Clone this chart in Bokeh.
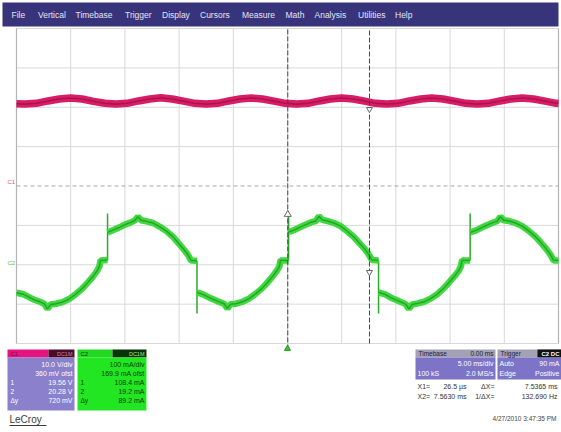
from bokeh.plotting import figure
from bokeh.models import Range1d
from bokeh.core.properties import value
from bokeh.embed import file_html
from bokeh.resources import INLINE

# ------------------------------------------------------------------ data
menu_labels = ["File", "Vertical", "Timebase", "Trigger", "Display", "Cursors",
               "Measure", "Math", "Analysis", "Utilities", "Help"]

grid_t_ms = [-25, -20, -15, -10, -5, 0, 5, 10, 15, 20, 25]   # 5 ms/div
grid_div = [-4, -3, -2, -1, 0, 1, 2, 3, 4]

# C1 (pink) : 120 Hz ripple, screen divisions
c1_t_ms = [-25.0, -24.2, -23.15, -22.1, -21.05, -20.0, -18.95, -17.9, -16.85,
           -15.85, -14.8, -13.75, -12.7, -11.7, -10.65, -9.6, -8.55, -7.5,
           -6.45, -5.4, -4.4, -3.35, -2.3, -1.25, -0.2, 0.85, 1.9, 2.95, 3.95,
           5.0, 6.05, 7.1, 8.1, 9.15, 10.2, 11.25, 12.3, 13.3, 14.35, 15.4,
           16.45, 17.5, 18.55, 19.6, 20.6, 21.65, 22.7, 23.75, 24.8, 25.0]
c1_div = [2.09, 2.08, 2.10, 2.16, 2.21, 2.235, 2.21, 2.15, 2.10,
          2.08, 2.10, 2.16, 2.21, 2.24, 2.21, 2.155, 2.10, 2.08,
          2.10, 2.16, 2.21, 2.235, 2.21, 2.155, 2.10, 2.08, 2.10, 2.16, 2.21,
          2.235, 2.21, 2.155, 2.10, 2.08, 2.10, 2.16, 2.21, 2.235, 2.21, 2.155,
          2.10, 2.08, 2.10, 2.16, 2.21, 2.235, 2.21, 2.155, 2.10, 2.095]

# C2 (green) : 60 Hz current, divisions relative to its ground marker
c2_offset_div = -1.94
c2_seg_t_ms = [
    [-25.0, -24.35, -23.85, -23.35, -22.85, -22.45, -22.15, -21.85, -21.35, -20.75,
     -20.15, -19.55, -18.95, -18.45, -17.95, -17.55, -17.35, -17.25, -16.6],
    [-16.6, -16.0, -15.5, -15.0, -14.5, -14.1, -13.8, -13.5, -13.0, -12.4,
     -11.8, -11.2, -10.6, -10.1, -9.6, -9.2, -9.0, -8.9, -8.35],
    [-8.35, -7.75, -7.25, -6.75, -6.25, -5.85, -5.55, -5.25, -4.75, -4.15,
     -3.55, -2.95, -2.35, -1.85, -1.35, -0.95, -0.75, -0.65, 0.1],
    [0.1, 0.7, 1.2, 1.7, 2.2, 2.6, 2.9, 3.2, 3.7, 4.3,
     4.9, 5.5, 6.1, 6.6, 7.1, 7.5, 7.7, 7.8, 8.4],
    [8.4, 9.0, 9.5, 10.0, 10.5, 10.9, 11.2, 11.5, 12.0, 12.6,
     13.2, 13.8, 14.4, 14.9, 15.4, 15.8, 16.0, 16.1, 16.85],
    [16.85, 17.45, 17.95, 18.45, 18.95, 19.35, 19.65, 19.95, 20.45, 21.05,
     21.65, 22.25, 22.85, 23.35, 23.85, 24.25, 24.45, 24.55, 25.0],
]
c2_seg_div = [
    [-0.77, -0.81, -0.88, -0.95, -1.00, -1.05, -1.18, -1.07, -1.05, -1.01,
     -0.93, -0.81, -0.67, -0.52, -0.36, -0.21, -0.10, 0.05, 0.06],
    [0.76, 0.83, 0.89, 0.96, 1.01, 1.06, 1.16, 1.07, 1.04, 1.00,
     0.91, 0.80, 0.66, 0.50, 0.34, 0.20, 0.10, 0.05, 0.04],
    [-0.76, -0.82, -0.89, -0.95, -1.01, -1.05, -1.17, -1.06, -1.05, -1.00,
     -0.92, -0.80, -0.66, -0.51, -0.35, -0.20, -0.10, 0.05, 0.05],
    [0.77, 0.83, 0.90, 0.96, 1.02, 1.05, 1.17, 1.08, 1.05, 1.00,
     0.92, 0.79, 0.65, 0.50, 0.35, 0.20, 0.10, 0.06, 0.05],
    [-0.76, -0.81, -0.89, -0.95, -1.01, -1.06, -1.18, -1.07, -1.04, -1.00,
     -0.92, -0.81, -0.66, -0.51, -0.35, -0.21, -0.10, 0.05, 0.05],
    [0.76, 0.82, 0.89, 0.95, 1.01, 1.05, 1.16, 1.07, 1.05, 1.00,
     0.92, 0.80, 0.66, 0.51, 0.35, 0.20, 0.10, 0.05, 0.05],
]
c2_edge_t_ms = [-16.6, -8.35, 0.1, 8.4, 16.85]
c2_edge_from = [0.06, 0.04, 0.05, 0.05, 0.05]
c2_edge_to = [1.24, -1.30, 1.22, -1.30, 1.24]

cursor_t_ms = [0.0265, 7.5630]
trigger_t_ms = [0.0]

c1_readout = ["10.0 V/div", "360 mV ofst", "19.56 V", "20.28 V", "720 mV"]
c2_readout = ["100 mA/div", "169.9 mA ofst", "108.4 mA", "19.2 mA", "89.2 mA"]
readout_keys = ["", "", "1", "2", "Δy"]
timebase_texts = ["Timebase", "0.00 ms", "5.00 ms/div", "100 kS", "2.0 MS/s"]
trigger_texts = ["Trigger", "C2 DC", "Auto", "90 mA", "Edge", "Positive"]
cursor_texts = ["X1=", "26.5 µs", "ΔX=", "7.5365 ms",
                "X2=", "7.5630 ms", "1/ΔX=", "132.690 Hz"]
stamp_text = "4/27/2010 3:47:35 PM"
brand_text = "LeCroy"

# ------------------------------------------------------------------ layout
W, H = 561, 432
X0, Y0 = 0, 0                       # page offset of the figure
GL, GR, GT, GB = 16, 558, 28, 343   # grid area (page px)
px_ms = (GR - GL) / (grid_t_ms[-1] - grid_t_ms[0])
px_div = (GB - GT) / (grid_div[-1] - grid_div[0])
t_lo = grid_t_ms[0] - (GL - X0) / px_ms
t_hi = grid_t_ms[-1] + (X0 + W - GR) / px_ms
v_hi = grid_div[-1] + (GT - Y0) / px_div
v_lo = grid_div[0] - (Y0 + H - GB) / px_div

p = figure(width=W, height=H, x_range=Range1d(X0, X0 + W), y_range=Range1d(Y0 + H, Y0),
           output_backend="svg", toolbar_location=None, min_border=0,
           x_axis_location=None, y_axis_location=None, title=None)
p.extra_x_ranges = {"t": Range1d(t_lo, t_hi)}
p.extra_y_ranges = {"v": Range1d(v_lo, v_hi)}
p.xgrid.visible = False
p.ygrid.visible = False
p.outline_line_color = None
p.background_fill_color = "white"
p.border_fill_color = "white"

F = value("Liberation Sans")


def txt(x, y, s, size="7px", color="white", align="left", style="normal"):
    p.text(x=[x], y=[y], text=[s], text_font=F, text_font_size=size,
           text_color=color, text_align=align, text_baseline="middle",
           text_font_style=style)


def box(l, r, t, b, color):
    p.quad(left=[l], right=[r], top=[t], bottom=[b], fill_color=color, line_color=None)


# menu bar
box(2, 558, 2, 26, "#37347c")
menu_x = [11, 37.5, 75, 124.5, 161.5, 199.5, 241.5, 285, 314, 357.5, 394.5]
for lbl, mx in zip(menu_labels, menu_x):
    txt(mx, 14.5, lbl, "8.5px", "#e4e4f4")

# grid
TV = dict(x_range_name="t", y_range_name="v")
inner_t = grid_t_ms[1:-1]
p.segment(x0=inner_t, y0=[grid_div[0]] * len(inner_t), x1=inner_t, y1=[grid_div[-1]] * len(inner_t),
          line_color="#d8d8d8", line_width=1, **TV)
hz = [d for d in grid_div if d != 0]
p.segment(x0=[grid_t_ms[0]] * len(hz), y0=hz, x1=[grid_t_ms[-1]] * len(hz), y1=hz,
          line_color="#d8d8d8", line_width=1, **TV)
p.segment(x0=[grid_t_ms[0]], y0=[0], x1=[grid_t_ms[-1]], y1=[0],
          line_color="#a8a8a8", line_width=1, line_dash="4 3", **TV)
p.segment(x0=[grid_t_ms[0], grid_t_ms[-1]], y0=[grid_div[0]] * 2,
          x1=[grid_t_ms[0], grid_t_ms[-1]], y1=[grid_div[-1]] * 2,
          line_color="#b4b4b4", line_width=1.2, **TV)

# channel ground markers
txt(7, 181, "C1", "6px", "#e05090")
txt(7, 262, "C2", "6px", "#50c850")

# traces
p.line(c1_t_ms, c1_div, line_color="#d81c66", line_width=7.5, **TV)
p.line(c1_t_ms, c1_div, line_color="#a3104a", line_width=1.6, line_alpha=0.8, **TV)

c2_abs = [[v + c2_offset_div for v in seg] for seg in c2_seg_div]
p.segment(x0=c2_edge_t_ms, y0=[v + c2_offset_div for v in c2_edge_from],
          x1=c2_edge_t_ms, y1=[v + c2_offset_div for v in c2_edge_to],
          line_color="#2caa2c", line_width=1.5, **TV)
p.multi_line(c2_seg_t_ms, c2_abs, line_color="#40d840", line_width=6.5, **TV)
p.multi_line(c2_seg_t_ms, c2_abs, line_color="#1f8f1f", line_width=1.4, line_alpha=0.75, **TV)

# cursors
p.segment(x0=cursor_t_ms, y0=[grid_div[0] - 0.15, grid_div[0]], x1=cursor_t_ms, y1=[grid_div[-1]] * 2,
          line_color="#444444", line_width=1, line_dash="5 2", **TV)
p.scatter(x=[cursor_t_ms[0]], y=[c2_offset_div + 1.22], marker="triangle", size=7,
          fill_color="white", line_color="#666666", **TV)
p.scatter(x=[cursor_t_ms[1], cursor_t_ms[1]], y=[1.95, c2_offset_div - 0.25], marker="inverted_triangle",
          size=6, fill_color="white", line_color="#666666", **TV)
p.scatter(x=trigger_t_ms, y=[grid_div[0] - 0.13], marker="triangle", size=6,
          fill_color="#30d030", line_color="#209020", **TV)

# C1 readout box
box(7, 48, 349, 357, "#e3147e")
box(48, 74, 349, 357, "#4a0c28")
txt(10, 353, "C1", "6px", "#80103c")
txt(72, 353, "DC1M", "5.5px", "#c08aa0", "right")
box(7, 74, 357, 410, "#8a80cc")
# C2 readout box
box(77, 112, 349, 357, "#22d822")
box(112, 146, 349, 357, "#063606")
txt(80, 353, "C2", "6px", "#0a400a")
txt(144, 353, "DC1M", "5.5px", "#a8e0a8", "right")
box(77, 146, 357, 410, "#22e622")
row_y = [364, 373, 382, 391, 400]
for ry, a, b, k in zip(row_y, c1_readout, c2_readout, readout_keys):
    txt(72, ry, a, "7px", "white", "right")
    txt(144, ry, b, "7px", "#0c3a0c", "right")
    if k:
        txt(10, ry, k, "6.5px", "white")
        txt(80, ry, k, "6.5px", "#0c3a0c")

txt(9, 419, brand_text, "10px", "#3c3c3c")
p.segment(x0=[9], y0=[425], x1=[46], y1=[425], line_color="#3c3c3c", line_width=1)

# timebase / trigger boxes
box(415, 495, 349, 357, "#a2a2b4")
box(497, 561, 349, 357, "#a2a2b4")
box(537, 561, 349, 357, "#111111")
box(415, 495, 357, 379, "#7d74c8")
box(497, 561, 357, 379, "#7d74c8")
txt(418, 353, timebase_texts[0], "6.5px", "#20204a")
txt(493, 353, timebase_texts[1], "6.5px", "#20204a", "right")
txt(493, 363, timebase_texts[2], "7px", "white", "right")
txt(417, 373, timebase_texts[3], "7px", "white")
txt(493, 373, timebase_texts[4], "7px", "white", "right")
txt(500, 353, trigger_texts[0], "6.5px", "#20204a")
txt(559, 353, trigger_texts[1], "6px", "white", "right", "bold")
txt(499, 363, trigger_texts[2], "7px", "white")
txt(559, 363, trigger_texts[3], "7px", "white", "right")
txt(499, 373, trigger_texts[4], "7px", "white")
txt(559, 373, trigger_texts[5], "7px", "white", "right")

# cursor readouts
for i, ry in enumerate([386, 396]):
    a, b, c, d = cursor_texts[4 * i:4 * i + 4]
    txt(417, ry, a, "7px", "#333333")
    txt(466, ry, b, "7px", "#333333", "right")
    txt(494, ry, c, "7px", "#333333", "right")
    txt(557, ry, d, "7px", "#333333", "right")

txt(556, 418, stamp_text, "6.5px", "#444444", "right")

open("out.html", "w").write(file_html(p, INLINE))
